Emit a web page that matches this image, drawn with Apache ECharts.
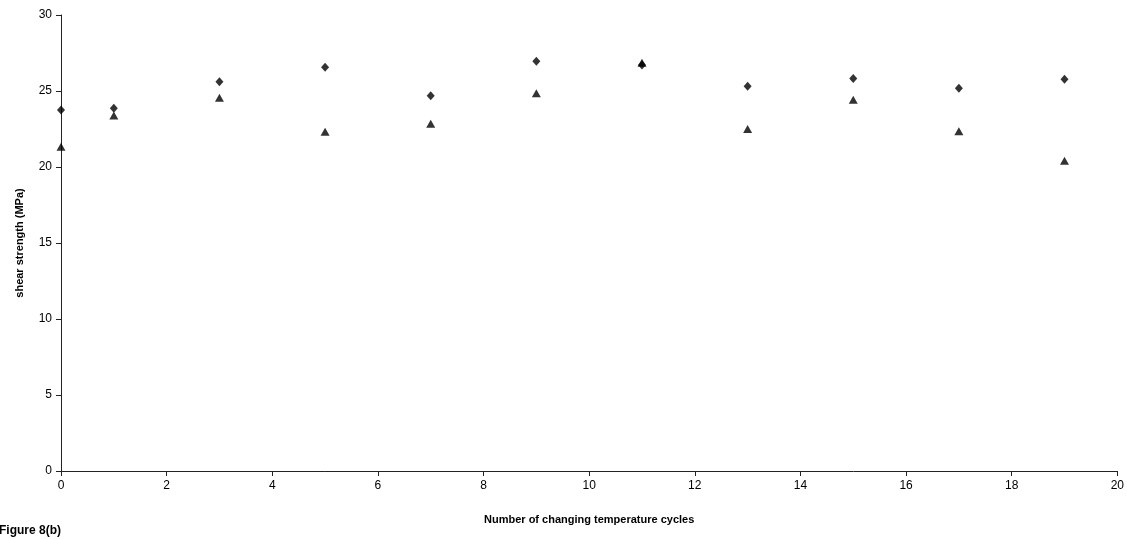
<!DOCTYPE html>
<html><head><meta charset="utf-8">
<script src="https://cdn.jsdelivr.net/npm/echarts@6/dist/echarts.min.js"></script>
<style>html,body{margin:0;padding:0;background:#fff}#c{width:1127px;height:539px}</style>
</head><body><div id="c"></div>
<script>
const cycles = [0, 1, 3, 5, 7, 9, 11, 13, 15, 17, 19];
const seriesDiamond = [23.75, 23.86, 25.61, 26.56, 24.69, 26.95, 26.71, 25.31, 25.83, 25.18, 25.77];
const seriesTriangle = [21.34, 23.38, 24.56, 22.32, 22.85, 24.85, 26.86, 22.5, 24.43, 22.35, 20.41];
const xTicks = [0, 2, 4, 6, 8, 10, 12, 14, 16, 18, 20];
const yTicks = [0, 5, 10, 15, 20, 25, 30];

const chart = echarts.init(document.getElementById('c'), null, {renderer: 'canvas'});
const font = 'Liberation Sans, Arial, sans-serif';
const axisCommon = {
  axisLine: {show: true, onZero: false, lineStyle: {color: '#222', width: 1}},
  axisTick: {show: true, inside: false, length: 5, lineStyle: {color: '#222'}},
  splitLine: {show: false},
  axisLabel: {color: '#000', fontFamily: font, fontSize: 12}
};
chart.setOption({
  animation: false,
  backgroundColor: '#fff',
  grid: {left: 61, right: 8, top: 15, bottom: 68, containLabel: false},
  xAxis: Object.assign({}, axisCommon, {
    type: 'value', min: xTicks[0], max: xTicks[xTicks.length - 1], interval: 2,
    name: 'Number of changing temperature cycles', nameLocation: 'middle', nameGap: 43,
    nameTextStyle: {fontFamily: font, fontSize: 11, fontWeight: 'bold', color: '#000'},
    axisLabel: Object.assign({}, axisCommon.axisLabel, {margin: 9})
  }),
  yAxis: Object.assign({}, axisCommon, {
    type: 'value', min: yTicks[0], max: yTicks[yTicks.length - 1], interval: 5,
    name: 'shear strength (MPa)', nameLocation: 'middle', nameGap: 36, nameRotate: 90,
    nameTextStyle: {fontFamily: font, fontSize: 11, fontWeight: 'bold', color: '#000'},
    axisLabel: Object.assign({}, axisCommon.axisLabel, {margin: 9})
  }),
  graphic: [{
    type: 'text', left: -1, top: 525,
    style: {text: 'Figure 8(b)', fontFamily: font, fontSize: 12, fontWeight: 'bold', fill: '#000'}
  }],
  series: [
    {
      type: 'scatter', symbol: 'diamond', symbolSize: [8, 9],
      itemStyle: {color: '#000'},
      data: cycles.map((c, i) => [c, seriesDiamond[i]])
    },
    {
      type: 'scatter', symbol: 'triangle', symbolSize: [9, 8],
      itemStyle: {color: '#000'},
      data: cycles.map((c, i) => [c, seriesTriangle[i]])
    }
  ]
});
</script></body></html>
